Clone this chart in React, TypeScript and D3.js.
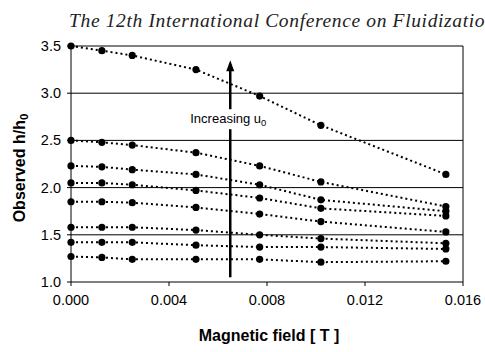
import React from "react";
import * as d3 from "d3";

const fieldT = [0, 0.00126, 0.0025, 0.0051, 0.0077, 0.0102, 0.0153];
const s1 = [3.5, 3.45, 3.4, 3.25, 2.97, 2.66, 2.14];
const s2 = [2.5, 2.48, 2.45, 2.37, 2.23, 2.06, 1.8];
const s3 = [2.23, 2.22, 2.19, 2.14, 2.03, 1.87, 1.75];
const s4 = [2.05, 2.05, 2.03, 1.97, 1.89, 1.78, 1.7];
const s5 = [1.85, 1.85, 1.84, 1.79, 1.72, 1.64, 1.53];
const s6 = [1.58, 1.58, 1.58, 1.55, 1.5, 1.46, 1.41];
const s7 = [1.42, 1.42, 1.42, 1.39, 1.37, 1.37, 1.35];
const s8 = [1.27, 1.26, 1.24, 1.24, 1.24, 1.21, 1.22];
const seriesList = [s1, s2, s3, s4, s5, s6, s7, s8];
const xTicks = [0, 0.004, 0.008, 0.012, 0.016];
const yTicks = [1.0, 1.5, 2.0, 2.5, 3.0, 3.5];
const arrowX = 0.0065;
const arrowFrom = 1.05;
const arrowTo = 3.35;

export default function App() {
  const W = 485, H = 352;
  const x = d3.scaleLinear().domain([0, 0.016]).range([71, 463]);
  const y = d3.scaleLinear().domain([1.0, 3.5]).range([282, 46]);
  const line = d3.line<number>().x((_, i) => x(fieldT[i])).y((d) => y(d));
  const sans = "'Liberation Sans', Arial, sans-serif";
  return (
    <svg width={W} height={H} style={{ position: "absolute", left: 0, top: 0, background: "#fff" }}>
      <text x={69} y={27} fontFamily="'Liberation Serif', 'Times New Roman', serif" fontStyle="italic" fontSize={19.5} fill="#222"
        textLength={426} lengthAdjust="spacing">
        The 12th International Conference on Fluidization
      </text>
      {yTicks.filter((t) => t > 1.0).map((t) => (
        <line key={"g" + t} x1={x(0)} x2={x(0.016)} y1={y(t)} y2={y(t)} stroke="#000" strokeWidth={1} />
      ))}
      <line x1={x(0.016)} x2={x(0.016)} y1={y(3.5)} y2={y(1.0)} stroke="#000" strokeWidth={1} />
      <line x1={x(0)} x2={x(0)} y1={y(3.5)} y2={y(1.0)} stroke="#000" strokeWidth={1} />
      <line x1={x(0)} x2={x(0.016)} y1={y(1.0)} y2={y(1.0)} stroke="#000" strokeWidth={1} />
      {yTicks.map((t) => (
        <g key={"y" + t}>
          <line x1={x(0) - 4} x2={x(0)} y1={y(t)} y2={y(t)} stroke="#000" />
          <text x={x(0) - 10} y={y(t)} dy="0.35em" textAnchor="end" fontFamily={sans} fontSize={14.5} fill="#000">
            {t.toFixed(1)}
          </text>
        </g>
      ))}
      {xTicks.map((t) => (
        <g key={"x" + t}>
          <line x1={x(t)} x2={x(t)} y1={y(1.0)} y2={y(1.0) + 4} stroke="#000" />
          <text x={x(t)} y={y(1.0) + 23} textAnchor="middle" fontFamily={sans} fontSize={14.5} fill="#000">
            {t.toFixed(3)}
          </text>
        </g>
      ))}
      {seriesList.map((s, k) => (
        <g key={"s" + k}>
          <path d={line(s) || ""} fill="none" stroke="#000" strokeWidth={2} strokeDasharray="2 3" />
          {s.map((v, i) => (
            <circle key={i} cx={x(fieldT[i])} cy={y(v)} r={3.6} fill="#000" />
          ))}
        </g>
      ))}
      <line x1={x(arrowX)} x2={x(arrowX)} y1={y(arrowFrom)} y2={y(arrowTo) + 8} stroke="#000" strokeWidth={2.5} />
      <path
        d={`M${x(arrowX)},${y(arrowTo)} L${x(arrowX) - 4},${y(arrowTo) + 11} L${x(arrowX) + 4},${y(arrowTo) + 11} Z`}
        fill="#000"
      />
      <rect x={x(arrowX) - 42} y={y(3.0) + 16} width={86} height={20} fill="#fff" />
      <text x={x(arrowX) - 40} y={y(3.0) + 30} fontFamily={sans} fontSize={13} fill="#000">
        Increasing u<tspan fontSize={9.5} dy={3}>0</tspan>
      </text>
      <text x={269} y={341} textAnchor="middle" fontFamily={sans} fontWeight="bold" fontSize={16} fill="#000">
        Magnetic field [ T ]
      </text>
      <text transform={`translate(25, 168) rotate(-90)`} textAnchor="middle" fontFamily={sans} fontWeight="bold" fontSize={16} fill="#000">
        Observed h/h<tspan fontSize={11.5} dy={3}>0</tspan>
      </text>
    </svg>
  );
}
